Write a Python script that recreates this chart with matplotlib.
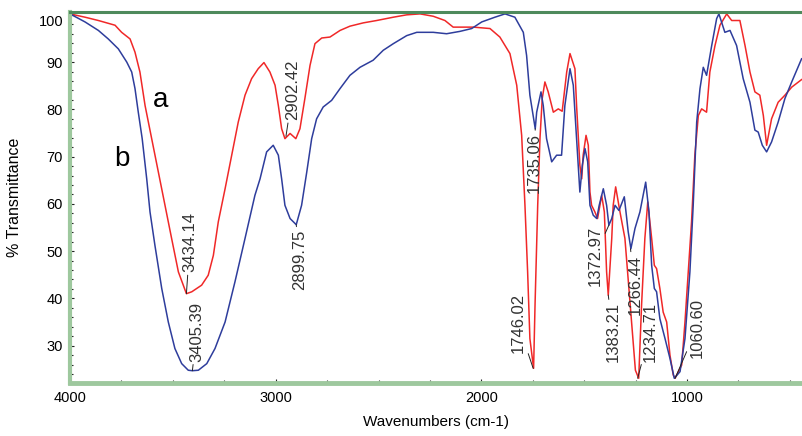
import numpy as np
import matplotlib.pyplot as plt
from matplotlib.ticker import MultipleLocator

plt.rcParams['font.family'] = ['Liberation Sans Narrow', 'Liberation Sans', 'DejaVu Sans']

# spectrum a (red)
wn_a = [4000, 3927, 3862, 3781, 3749, 3708, 3684, 3660, 3635, 3603, 3571, 3538, 3506, 3473,
        3434, 3408, 3360, 3328, 3303, 3279, 3246, 3214, 3182, 3149, 3117, 3085, 3057, 3028,
        3003, 2987, 2971, 2955, 2930, 2902, 2882, 2858, 2833, 2809, 2776, 2736, 2687, 2639,
        2574, 2509, 2428, 2363, 2298, 2234, 2177, 2137, 2039, 1958, 1910, 1861, 1828, 1804,
        1788, 1775, 1764, 1746, 1739, 1726, 1715, 1704, 1691, 1675, 1650, 1626, 1607, 1585,
        1569, 1545, 1537, 1521, 1512, 1505, 1491, 1480, 1472, 1464, 1448, 1435, 1415, 1402,
        1391, 1383, 1366, 1359, 1347, 1326, 1302, 1278, 1263, 1251, 1235, 1221, 1205, 1191,
        1172, 1159, 1148, 1132, 1116, 1099, 1083, 1067, 1058, 1026, 1010, 994, 978, 962,
        945, 929, 905, 889, 864, 840, 807, 783, 743, 718, 694, 670, 646, 629, 613, 589,
        557, 524, 491, 443]
t_a = [100.2, 99.5, 98.8, 97.8, 96.3, 94.9, 92.1, 87.9, 80.8, 73.8, 66.7, 59.7, 52.7, 45.6,
       41.0, 41.4, 42.8, 44.9, 49.1, 56.2, 63.2, 70.3, 77.3, 83.0, 86.5, 88.6, 89.9, 87.9,
       85.1, 80.8, 75.9, 73.8, 74.9, 73.8, 75.9, 82.3, 89.3, 93.9, 95.1, 95.3, 96.7, 97.6,
       98.3, 98.8, 99.5, 100.0, 100.2, 99.7, 98.8, 97.4, 97.4, 97.1, 95.3, 91.8, 85.1, 74.5,
       59.7, 45.6, 31.5, 25.2, 38.6, 59.7, 73.8, 82.3, 85.8, 83.7, 79.4, 80.1, 79.6, 87.9,
       91.8, 88.6, 80.8, 68.2, 65.3, 70.3, 74.5, 72.4, 62.5, 59.7, 58.3, 56.9, 61.8, 58.3,
       45.6, 40.7, 52.7, 59.7, 63.6, 58.3, 52.7, 39.6, 31.2, 24.8, 23.1, 38.6, 52.7, 60.4,
       52.7, 47.0, 46.3, 42.1, 37.1, 35.0, 28.0, 23.8, 23.1, 25.9, 35.0, 45.6, 56.2, 70.3,
       78.7, 80.1, 79.4, 87.9, 93.5, 97.8, 100.2, 98.8, 98.8, 93.5, 87.9, 83.7, 83.0, 78.7, 72.4, 78.0,
       81.5, 83.0, 84.7, 86.3]

# spectrum b (blue)
wn_b = [4000, 3927, 3862, 3814, 3765, 3724, 3700, 3684, 3668, 3649, 3627, 3611, 3587, 3554,
        3522, 3490, 3457, 3425, 3405, 3376, 3335, 3295, 3246, 3198, 3149, 3101, 3076, 3044,
        3012, 2987, 2971, 2955, 2930, 2900, 2874, 2849, 2825, 2801, 2769, 2728, 2687, 2639,
        2590, 2526, 2477, 2428, 2363, 2314, 2234, 2169, 2104, 2047, 1998, 1934, 1885, 1837,
        1796, 1780, 1764, 1738, 1731, 1710, 1699, 1683, 1658, 1634, 1610, 1594, 1569, 1553,
        1537, 1521, 1509, 1496, 1483, 1472, 1456, 1439, 1427, 1407, 1391, 1380, 1366, 1350,
        1331, 1305, 1286, 1273, 1253, 1229, 1201, 1185, 1172, 1159, 1148, 1132, 1107, 1083,
        1062, 1034, 1010, 986, 970, 953, 937, 921, 905, 880, 856, 845, 816, 791, 759, 727,
        694, 670, 654, 634, 613, 589, 557, 524, 491, 443]
t_b = [100.2, 98.5, 96.7, 94.9, 92.8, 90.0, 87.9, 84.4, 79.4, 73.8, 65.3, 58.3, 51.2, 42.1,
       35.0, 29.4, 26.2, 24.8, 24.7, 24.8, 26.2, 29.4, 35.0, 43.5, 52.7, 61.8, 65.3, 71.0,
       72.4, 70.3, 65.3, 59.7, 56.9, 55.6, 59.7, 66.7, 73.8, 78.0, 80.5, 81.9, 84.4, 87.2,
       88.9, 90.4, 92.5, 93.9, 95.6, 96.3, 96.3, 96.0, 96.5, 97.1, 98.5, 99.5, 100.2, 99.5,
       96.3, 91.4, 83.0, 75.9, 79.4, 83.7, 80.8, 73.8, 68.9, 70.3, 70.3, 80.8, 88.6, 85.1,
       73.8, 62.5, 68.2, 71.7, 68.9, 59.7, 57.6, 56.9, 59.7, 63.2, 59.7, 55.5, 56.9, 59.7,
       58.6, 61.5, 54.1, 50.5, 54.8, 58.3, 64.6, 58.3, 47.0, 42.1, 41.4, 35.7, 31.5, 27.3,
       23.1, 24.5, 31.5, 45.6, 59.7, 77.3, 84.4, 88.9, 87.2, 93.5, 99.2, 100.2, 96.3, 96.7, 93.5, 86.5,
       81.5, 75.6, 75.2, 72.4, 71.0, 73.1, 77.3, 82.3, 85.8, 90.7]

# peak labels: text, point (wn, %T), text anchor (wn, %T), vertical alignment
peak_labels = ['3434.14', '3405.39', '2902.42', '2899.75', '1735.06', '1746.02',
               '1372.97', '1383.21', '1266.44', '1234.71', '1060.60']
peak_xy = [(3434, 41.0), (3405, 24.7), (2950, 74.3), (2900, 55.6), (1738, 75.9), (1748, 25.2),
           (1380, 55.5), (1383, 40.7), (1275, 50.5), (1240, 23.1), (1058, 23.1)]
label_xy = [(3417, 45.5), (3383, 26.6), (2916, 77.7), (2882, 54.6), (1744, 75.0), (1822, 28.4),
            (1448, 55.3), (1360, 39.2), (1253, 49.3), (1180, 26.6), (952, 27.4)]
label_va = ['bottom', 'bottom', 'bottom', 'top', 'top', 'bottom',
            'top', 'top', 'top', 'bottom', 'bottom']

fig = plt.figure(figsize=(8.02, 4.36), dpi=100)
ax = fig.add_axes([70/802, 53/436, 732/802, 371/436])

ax.plot(wn_a, t_a, color='#f02828', lw=1.1)
ax.plot(wn_b, t_b, color='#2e3d9c', lw=1.1)

for lab, p, q, va in zip(peak_labels, peak_xy, label_xy, label_va):
    ax.annotate(lab, xy=p, xytext=q, rotation=90, ha='center', va=va, fontsize=12,
                family=['Liberation Sans', 'DejaVu Sans'], color='#333333',
                arrowprops=dict(arrowstyle='-', lw=0.7, color='#222222', shrinkA=0, shrinkB=0))

ax.text(3558, 81.9, 'a', fontsize=20, ha='center', va='center', family=['Liberation Sans', 'DejaVu Sans'])
ax.text(3747, 69.6, 'b', fontsize=20, ha='center', va='center', family=['Liberation Sans', 'DejaVu Sans'])

ax.set_xlim(4000, 441)
ax.set_ylim(22.1, 100.6)
ax.set_xticks([4000, 3000, 2000, 1000])
ax.set_yticks([30, 40, 50, 60, 70, 80, 90, 100])
ax.xaxis.set_minor_locator(MultipleLocator(250))
ax.yaxis.set_minor_locator(MultipleLocator(2))
ax.tick_params(axis='both', which='major', labelsize=10.5, direction='in', length=3, width=0.8, color='#222222', pad=5)
ax.tick_params(axis='both', which='minor', direction='in', length=2, width=0.8, color='#222222')
ax.tick_params(axis='x', which='major', pad=6)
for t in ax.get_yticklabels():
    if t.get_text() == '100':
        t.set_va('top')

ax.spines['right'].set_visible(False)
ax.spines['top'].set_color('#4e8a5c')
ax.spines['top'].set_linewidth(2.2)
ax.spines['left'].set_color('#9ec89e')
ax.spines['left'].set_linewidth(3)
ax.spines['bottom'].set_color('#9ec89e')
ax.spines['bottom'].set_linewidth(3.5)

ax.set_xlabel('Wavenumbers (cm-1)', fontsize=11)
ax.set_ylabel('% Transmittance', fontsize=11.5)
ax.xaxis.set_label_coords(0.5, -0.085)
ax.yaxis.set_label_coords(-0.066, 0.5)

plt.savefig('out.png', dpi=100)
